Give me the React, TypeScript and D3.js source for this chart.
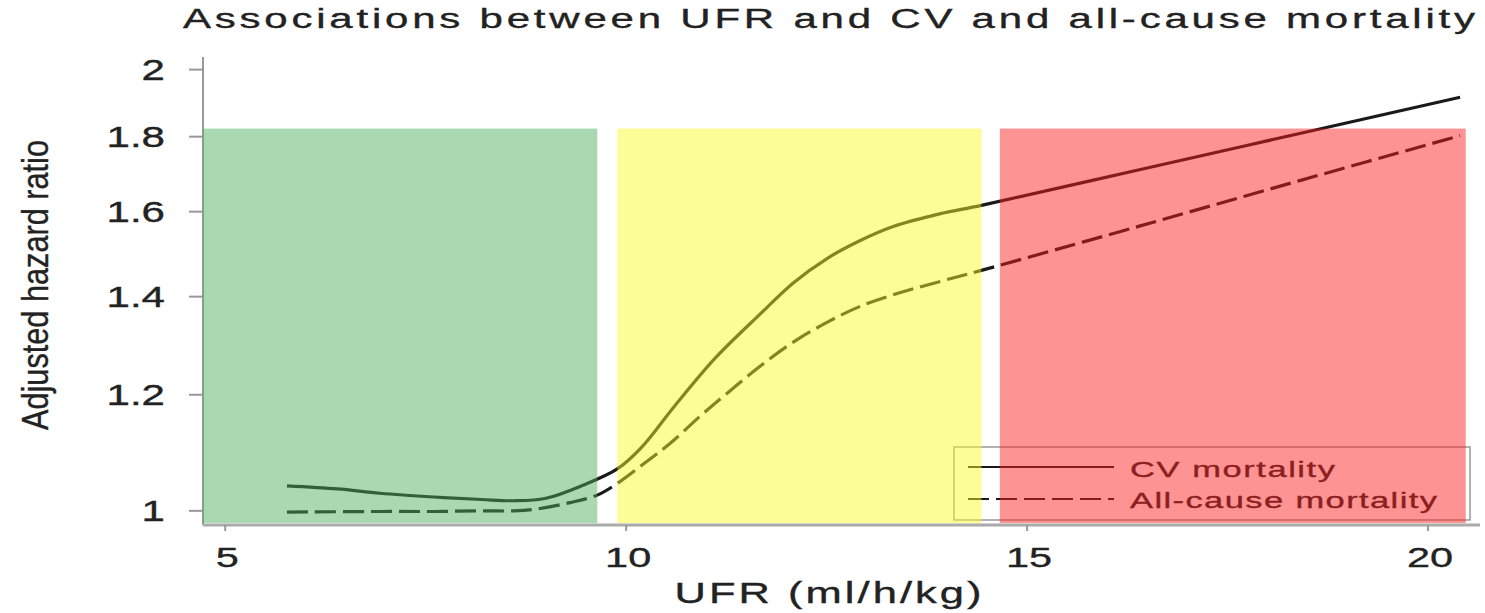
import React from "react";
import * as d3 from "d3";

// values (UFR in ml/h/kg, adjusted hazard ratio)
const ufrCV = [5.77, 6.4, 6.93, 7.6, 8.2, 8.6, 9.0, 9.46, 9.89, 10.18, 10.61, 11.11, 11.67, 12.08, 12.51, 12.92, 13.33, 13.92, 14.43, 16.4, 18.4, 20.4];
const hrCV = [1.04, 1.035, 1.028, 1.022, 1.018, 1.016, 1.02, 1.041, 1.068, 1.103, 1.18, 1.271, 1.362, 1.43, 1.487, 1.529, 1.563, 1.595, 1.616, 1.709, 1.809, 1.915];

const ufrAll = [5.77, 6.93, 7.6, 8.2, 8.6, 8.89, 9.3, 9.64, 9.89, 10.24, 10.55, 10.92, 11.26, 11.67, 12.08, 12.51, 12.92, 13.42, 13.92, 14.43, 16.4, 18.4, 20.4];
const hrAll = [0.998, 0.999, 0.999, 1.0, 1.0, 1.003, 1.013, 1.025, 1.044, 1.079, 1.112, 1.16, 1.203, 1.255, 1.303, 1.345, 1.379, 1.409, 1.434, 1.459, 1.564, 1.68, 1.803];

// coloured UFR zones
const zoneFrom = [4.723, 9.89, 14.66];
const zoneTo = [9.64, 14.43, 20.47];
const zoneTop = 1.823;
const zoneColors = ["#4eae5a", "#fafa28", "#fd1e1e"];

const xTicks = [5, 10, 15, 20];
const yTicks = [1, 1.2, 1.4, 1.6, 1.8, 2];
const seriesNames = ["CV mortality", "All-cause mortality"];

const W = 1485;
const H = 613;
const FONT = "'Liberation Sans', Arial, Helvetica, sans-serif";

// the original is a horizontally stretched bitmap, so text gets an x scale
const Label = ({ x, y, size, sx = 1.5, anchor = "start", len, children }: any) => (
  <text
    transform={`translate(${x},${y}) scale(${sx},1)`}
    fontSize={size}
    textAnchor={anchor}
    textLength={len ? len / sx : undefined}
    lengthAdjust="spacing"
    fill="#222"
    stroke="#222"
    strokeWidth={0.35}
    fontFamily={FONT}
  >
    {children}
  </text>
);

export default function App() {
  const x = d3.scaleLinear().domain([4.723, 20.648]).range([203, 1480]);
  const y = d3.scaleLog().domain([0.978, 2.04]).range([525, 57]);

  const line = d3
    .line<[number, number]>()
    .x((d) => x(d[0]))
    .y((d) => y(d[1]))
    .curve(d3.curveCatmullRom.alpha(0.5));

  const cv = ufrCV.map((u, i) => [u, hrCV[i]] as [number, number]);
  const all = ufrAll.map((u, i) => [u, hrAll[i]] as [number, number]);

  const [y0] = y.range();

  return (
    <svg width={W} height={H} style={{ position: "absolute", left: 0, top: 0, background: "#fff" }}>
      {/* title */}
      <Label x={829} y={28} size={28} anchor="middle" len={1292}>
        Associations between UFR and CV and all-cause mortality
      </Label>

      {/* axes */}
      <line x1={x.range()[0]} x2={x.range()[0]} y1={y.range()[1]} y2={y0} stroke="#999" strokeWidth={2} />
      <line x1={x.range()[0]} x2={x.range()[1]} y1={y0} y2={y0} stroke="#aaa" strokeWidth={3} />
      {yTicks.map((t) => (
        <g key={"y" + t}>
          <line x1={189} x2={x.range()[0]} y1={y(t)} y2={y(t)} stroke="#999" strokeWidth={2} />
          <Label x={165} y={y(t) + 10} size={29} sx={1.45} anchor="end">
            {String(t)}
          </Label>
        </g>
      ))}
      {xTicks.map((t) => (
        <g key={"x" + t}>
          <line x1={x(t)} x2={x(t)} y1={y0} y2={y0 + 6} stroke="#999" strokeWidth={2} />
          <Label x={x(t) + 2} y={567} size={28} sx={1.48} anchor="middle">
            {String(t)}
          </Label>
        </g>
      ))}

      {/* axis titles */}
      <Label x={828} y={603} size={29} anchor="middle" len={307}>
        UFR (ml/h/kg)
      </Label>
      <text
        transform="translate(48,285) scale(1.2,1) rotate(-90)"
        fontSize={31}
        textAnchor="middle"
        textLength={290}
        lengthAdjust="spacingAndGlyphs"
        fill="#222"
        stroke="#222"
        strokeWidth={0.3}
        fontFamily={FONT}
      >
        Adjusted hazard ratio
      </text>

      {/* curves */}
      <path d={line(cv) || ""} fill="none" stroke="#1a1a1a" strokeWidth={3.2} />
      <path d={line(all) || ""} fill="none" stroke="#1a1a1a" strokeWidth={3.2} strokeDasharray="21,7" />

      {/* legend */}
      <rect x={954} y={447} width={516} height={73} fill="#fff" stroke="#999" strokeWidth={1.5} />
      {seriesNames.map((s, i) => (
        <g key={s}>
          <line
            x1={968}
            x2={1114}
            y1={467 + i * 32}
            y2={467 + i * 32}
            stroke="#1a1a1a"
            strokeWidth={2}
            strokeDasharray={i === 1 ? "21,7" : undefined}
          />
          <Label x={1130} y={477 + i * 31} size={23} sx={1.5} len={i === 0 ? 205 : 307}>
            {s}
          </Label>
        </g>
      ))}

      {/* translucent zones laid over everything */}
      {zoneFrom.map((z, i) => (
        <rect
          key={"z" + i}
          x={x(z)}
          y={y(zoneTop)}
          width={x(zoneTo[i]) - x(z)}
          height={y0 - 2 - y(zoneTop)}
          fill={zoneColors[i]}
          fillOpacity={0.48}
        />
      ))}
    </svg>
  );
}
